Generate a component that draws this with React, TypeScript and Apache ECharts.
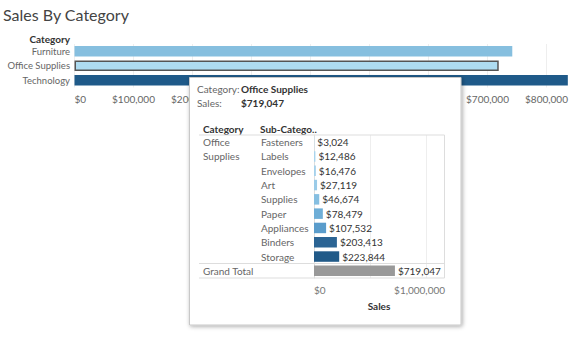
import React, { useEffect, useRef } from "react";
import * as echarts from "echarts";

const categories = ["Furniture", "Office Supplies", "Technology"];
const categorySales = [742000, 719047, 836154];
const mainTickStep = 100000;
const mainAxisMax = 850000;

const tipCategory = "Office Supplies";
const tipSales = 719047;
const subCategories = ["Fasteners", "Labels", "Envelopes", "Art", "Supplies", "Paper", "Appliances", "Binders", "Storage"];
const subSales = [3024, 12486, 16476, 27119, 46674, 78479, 107532, 203413, 223844];
const grandTotalLabel = "Grand Total";
const grandTotal = 719047;
const miniTickStep = 500000;
const miniAxisMax = 1155000;

const mainColors = ["#86bfdf", "#aedcf1", "#1f5a89"];
const subColors = ["#c6e3f3", "#a9d4ed", "#a5d1eb", "#9acbe8", "#86bfe1", "#6eaed7", "#5a9ccb", "#2b6494", "#215a88"];

const FONT = "Lato, 'Open Sans', sans-serif";
const money = (v: number) => "$" + Math.round(v).toLocaleString("en-US");

export default function App() {
  const ref = useRef<HTMLDivElement>(null);
  useEffect(() => {
    if (!ref.current) return;
    const chart = echarts.init(ref.current, undefined, { renderer: "svg" });
    const miniCats = [...subCategories, grandTotalLabel];
    const miniData = [
      ...subSales.map((v, i) => ({ value: v, itemStyle: { color: subColors[i] } })),
      { value: grandTotal, itemStyle: { color: "#999999" } },
    ];
    const txt = (x: number, y: number, text: string, bold: boolean, fill: string, size = 10) => ({
      type: "text",
      x,
      y,
      z: 21,
      style: {
        text,
        font: `${bold ? "bold " : ""}${size}px ${FONT}`,
        fill,
        verticalAlign: "middle",
        lineHeight: 10,
      },
    });
    chart.setOption({
      animation: false,
      textStyle: { fontFamily: FONT },
      title: {
        text: "Sales By Category",
        left: 3,
        top: 6,
        padding: 0,
        textStyle: { fontFamily: FONT, fontSize: 16, fontWeight: "normal", color: "#444" },
      },
      grid: [
        { left: 74.5, top: 44, width: 501.5, height: 43.5 },
        { left: 314, top: 135, width: 130, height: 143, z: 20 },
      ],
      xAxis: [
        {
          gridIndex: 0,
          type: "value",
          min: 0,
          max: mainAxisMax,
          interval: mainTickStep,
          axisLine: { show: false },
          axisTick: { show: false },
          splitLine: { show: true, lineStyle: { color: "#eeeeee", width: 1 } },
          axisLabel: {
            // labels fully covered by the tooltip card are not drawn
            formatter: (v: number) => (v > 200000 && v < 700000 ? "" : money(v)),
            color: "#666",
            fontSize: 10,
            margin: 6,
            showMaxLabel: false,
            alignMinLabel: "left",
          },
        },
        {
          gridIndex: 1,
          type: "value",
          min: 0,
          max: miniAxisMax,
          interval: miniTickStep,
          z: 20,
          axisLine: { show: false },
          axisTick: { show: false },
          splitLine: { show: true, lineStyle: { color: "#eeeeee", width: 1 } },
          axisLabel: {
            formatter: (v: number) => (v === 0 ? money(v) : v === 1000000 ? "{a|" + money(v) + "}" : ""),
            color: "#777",
            fontSize: 10,
            margin: 7,
            showMaxLabel: false,
            alignMinLabel: "left",
            rich: { a: { color: "#777", fontSize: 10, padding: [0, 14, 0, 0], fontFamily: FONT } },
          },
          name: "Sales",
          nameLocation: "middle",
          nameGap: 23,
          nameTextStyle: { fontFamily: FONT, fontSize: 10, fontWeight: "bold", color: "#333" },
        },
      ],
      yAxis: [
        {
          gridIndex: 0,
          type: "category",
          data: categories,
          inverse: true,
          axisLine: { show: false },
          axisTick: { show: false },
          axisLabel: { color: "#666", fontSize: 9.5, margin: 4.5 },
        },
        {
          gridIndex: 1,
          type: "category",
          data: miniCats,
          inverse: true,
          z: 20,
          axisLine: { show: true, lineStyle: { color: "#dddddd" } },
          axisTick: { show: false },
          axisLabel: {
            color: "#666",
            fontSize: 10,
            align: "left",
            margin: 53,
            formatter: (v: string) => (v === grandTotalLabel ? "" : v),
          },
        },
      ],
      series: [
        {
          type: "bar",
          xAxisIndex: 0,
          yAxisIndex: 0,
          barWidth: 10.5,
          z: 2,
          data: categorySales.map((v, i) => ({
            value: v,
            itemStyle:
              categories[i] === tipCategory
                ? { color: mainColors[i], borderColor: "#555", borderWidth: 1.5 }
                : { color: mainColors[i] },
          })),
        },
        {
          type: "bar",
          xAxisIndex: 1,
          yAxisIndex: 1,
          barWidth: 10.5,
          z: 25,
          data: miniData,
          label: {
            show: true,
            position: "right",
            distance: 3,
            formatter: (p: any) => money(p.value),
            color: "#333",
            fontSize: 10,
            fontFamily: FONT,
          },
        },
      ],
      graphic: [
        {
          type: "text",
          x: 70,
          y: 39,
          z: 5,
          style: { text: "Category", font: `bold 10px ${FONT}`, fill: "#333", align: "right", verticalAlign: "middle" },
        },
        {
          type: "rect",
          shape: { x: 189.5, y: 77.5, width: 271.5, height: 247.5 },
          z: 10,
          style: {
            fill: "#ffffff",
            stroke: "#c8c8c8",
            lineWidth: 1,
            shadowBlur: 4,
            shadowOffsetX: 1,
            shadowOffsetY: 1,
            shadowColor: "rgba(0,0,0,0.35)",
          },
        },
        txt(197, 89, "Category:", false, "#666"),
        txt(241, 89, tipCategory, true, "#333"),
        txt(197, 103, "Sales:", false, "#666"),
        txt(241, 103, money(tipSales), true, "#333"),
        txt(203, 128.5, "Category", true, "#333"),
        txt(260, 128.5, "Sub-Catego..", true, "#333"),
        txt(203, 142, "Office", false, "#666"),
        txt(203, 155.5, "Supplies", false, "#666"),
        txt(203, 270.7, grandTotalLabel, false, "#666"),
        {
          type: "line",
          z: 21,
          shape: { x1: 199, y1: 135, x2: 444.5, y2: 135 },
          style: { stroke: "#dddddd", lineWidth: 1 },
        },
        {
          type: "line",
          z: 21,
          shape: { x1: 199, y1: 263.5, x2: 444.5, y2: 263.5 },
          style: { stroke: "#dddddd", lineWidth: 1 },
        },
        {
          type: "line",
          z: 21,
          shape: { x1: 199, y1: 278, x2: 444.5, y2: 278 },
          style: { stroke: "#dddddd", lineWidth: 1 },
        },
        {
          type: "line",
          z: 21,
          shape: { x1: 444.5, y1: 135, x2: 444.5, y2: 278 },
          style: { stroke: "#dddddd", lineWidth: 1 },
        },
      ],
    });
    return () => chart.dispose();
  }, []);
  return (
    <div
      ref={ref}
      style={{ position: "fixed", left: 0, top: 0, width: 576, height: 337, background: "#fff" }}
    />
  );
}
